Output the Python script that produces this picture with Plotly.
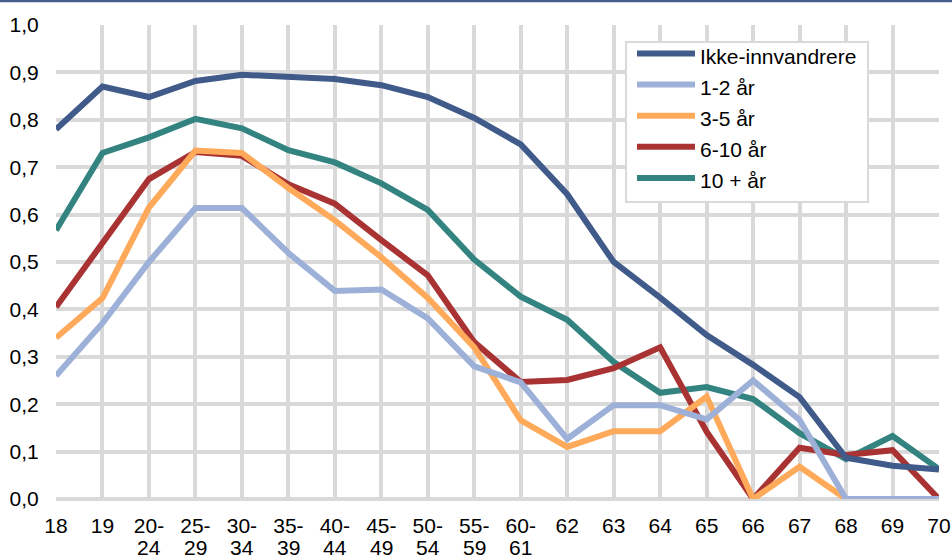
import plotly.graph_objects as go

# Age groups on the horizontal axis; grouped ages have their upper bound
# written on a second row below the tick label
ages = ["18", "19", "20-24", "25-29", "30-34", "35-39", "40-44", "45-49",
        "50-54", "55-59", "60-61", "62", "63", "64", "65", "66", "67", "68",
        "69", "70"]
age_top = ["18", "19", "20-", "25-", "30-", "35-", "40-", "45-", "50-", "55-",
           "60-", "62", "63", "64", "65", "66", "67", "68", "69", "70"]
age_bottom = ["", "", "24", "29", "34", "39", "44", "49", "54", "59", "61",
              "", "", "", "", "", "", "", "", ""]

ikke_innvandrere = [0.78, 0.87, 0.848, 0.882, 0.895, 0.892, 0.886, 0.873, 0.848,
                    0.804, 0.748, 0.643, 0.50, 0.425, 0.346, 0.283, 0.215,
                    0.087, 0.070, 0.062]
aar_1_2 = [0.26, 0.371, 0.50, 0.614, 0.614, 0.519, 0.439, 0.442, 0.381, 0.28,
           0.246, 0.127, 0.198, 0.198, 0.168, 0.25, 0.167, 0.0, 0.0, 0.0]
aar_3_5 = [0.34, 0.424, 0.615, 0.735, 0.73, 0.656, 0.588, 0.51, 0.424, 0.32,
           0.166, 0.11, 0.143, 0.143, 0.216, 0.0, 0.068, 0.0, 0.0, 0.0]
aar_6_10 = [0.405, 0.54, 0.675, 0.732, 0.724, 0.664, 0.623, 0.546, 0.472, 0.331,
            0.247, 0.251, 0.276, 0.32, 0.142, 0.0, 0.108, 0.093, 0.103, 0.0]
aar_10_pluss = [0.567, 0.73, 0.763, 0.802, 0.782, 0.736, 0.71, 0.666, 0.61,
                0.505, 0.427, 0.378, 0.289, 0.224, 0.236, 0.211, 0.139,
                0.084, 0.133, 0.063]

series_names = ["Ikke-innvandrere", "1-2 år", "3-5 år", "6-10 år", "10 + år"]
series_values = [ikke_innvandrere, aar_1_2, aar_3_5, aar_6_10, aar_10_pluss]
series_colors = ["#405A8A", "#9DB0D7", "#FFAA5A", "#A93233", "#338480"]

y_ticks = [0.0, 0.1, 0.2, 0.3, 0.4, 0.5, 0.6, 0.7, 0.8, 0.9, 1.0]

W, H = 952, 560
L, R, T, B = 56, 13, 25, 61
PW, PH = W - L - R, H - T - B
FONT = "Liberation Sans, Arial, sans-serif"
GRID = "#D9D9D9"

fig = go.Figure()
# draw order: light lines first so the darker series sit on top
for name, vals, col in zip(series_names[::-1], series_values[::-1], series_colors[::-1]):
    fig.add_trace(go.Scatter(x=ages, y=vals, mode="lines", name=name,
                             line=dict(color=col, width=6), showlegend=False,
                             hoverinfo="skip"))


def px_x(p):
    return (p - L) / PW


def px_y(p):
    return (H - B - p) / PH


shapes = [
    # thin rule along the top of the page
    dict(type="line", xref="paper", yref="paper", x0=px_x(0), x1=px_x(W),
         y0=px_y(1), y1=px_y(1), line=dict(color="#455E8C", width=2.5)),
    # legend box
    dict(type="rect", xref="paper", yref="paper", x0=px_x(626), x1=px_x(868),
         y0=px_y(202), y1=px_y(42), fillcolor="white",
         line=dict(color=GRID, width=2)),
]
annotations = []
row0, row_step = 53.5, 31.1
for i, (name, col) in enumerate(zip(series_names, series_colors)):
    ry = row0 + i * row_step
    shapes.append(dict(type="line", xref="paper", yref="paper",
                       x0=px_x(637), x1=px_x(695), y0=px_y(ry), y1=px_y(ry),
                       line=dict(color=col, width=6)))
    annotations.append(dict(text=name, xref="paper", yref="paper",
                            x=px_x(698), y=px_y(ry + 3), xanchor="left",
                            yanchor="middle", showarrow=False,
                            font=dict(family=FONT, size=21, color="#000000")))

# second row of the grouped age labels
for cat, txt in zip(ages, age_bottom):
    if txt:
        annotations.append(dict(text=txt, xref="x", yref="paper", x=cat,
                                y=px_y(547), xanchor="center",
                                yanchor="middle", showarrow=False,
                                font=dict(family=FONT, size=21,
                                          color="#000000")))

fig.update_layout(
    width=W, height=H,
    margin=dict(l=L, r=R, t=T, b=B, autoexpand=False),
    paper_bgcolor="white", plot_bgcolor="white",
    font=dict(family=FONT, size=21, color="#000000"),
    separators=",.",
    shapes=shapes,
    annotations=annotations,
    xaxis=dict(type="category", range=[0, len(ages) - 1], automargin=False,
               tickmode="array", tickvals=ages, ticktext=age_top,
               showgrid=True, gridcolor=GRID, gridwidth=4,
               showline=False, zeroline=False,
               ticks="outside", ticklen=8, tickcolor="rgba(0,0,0,0)",
               tickfont=dict(family=FONT, size=21, color="#000000")),
    yaxis=dict(range=[0, 1.0], automargin=False, tickmode="array",
               tickvals=y_ticks, tickformat=".1f",
               showgrid=True, gridcolor=GRID, gridwidth=4,
               zeroline=True, zerolinecolor=GRID, zerolinewidth=4,
               showline=False,
               ticks="outside", ticklen=12, tickcolor="rgba(0,0,0,0)",
               tickfont=dict(family=FONT, size=21, color="#000000")),
)

fig.write_html("out.html")
